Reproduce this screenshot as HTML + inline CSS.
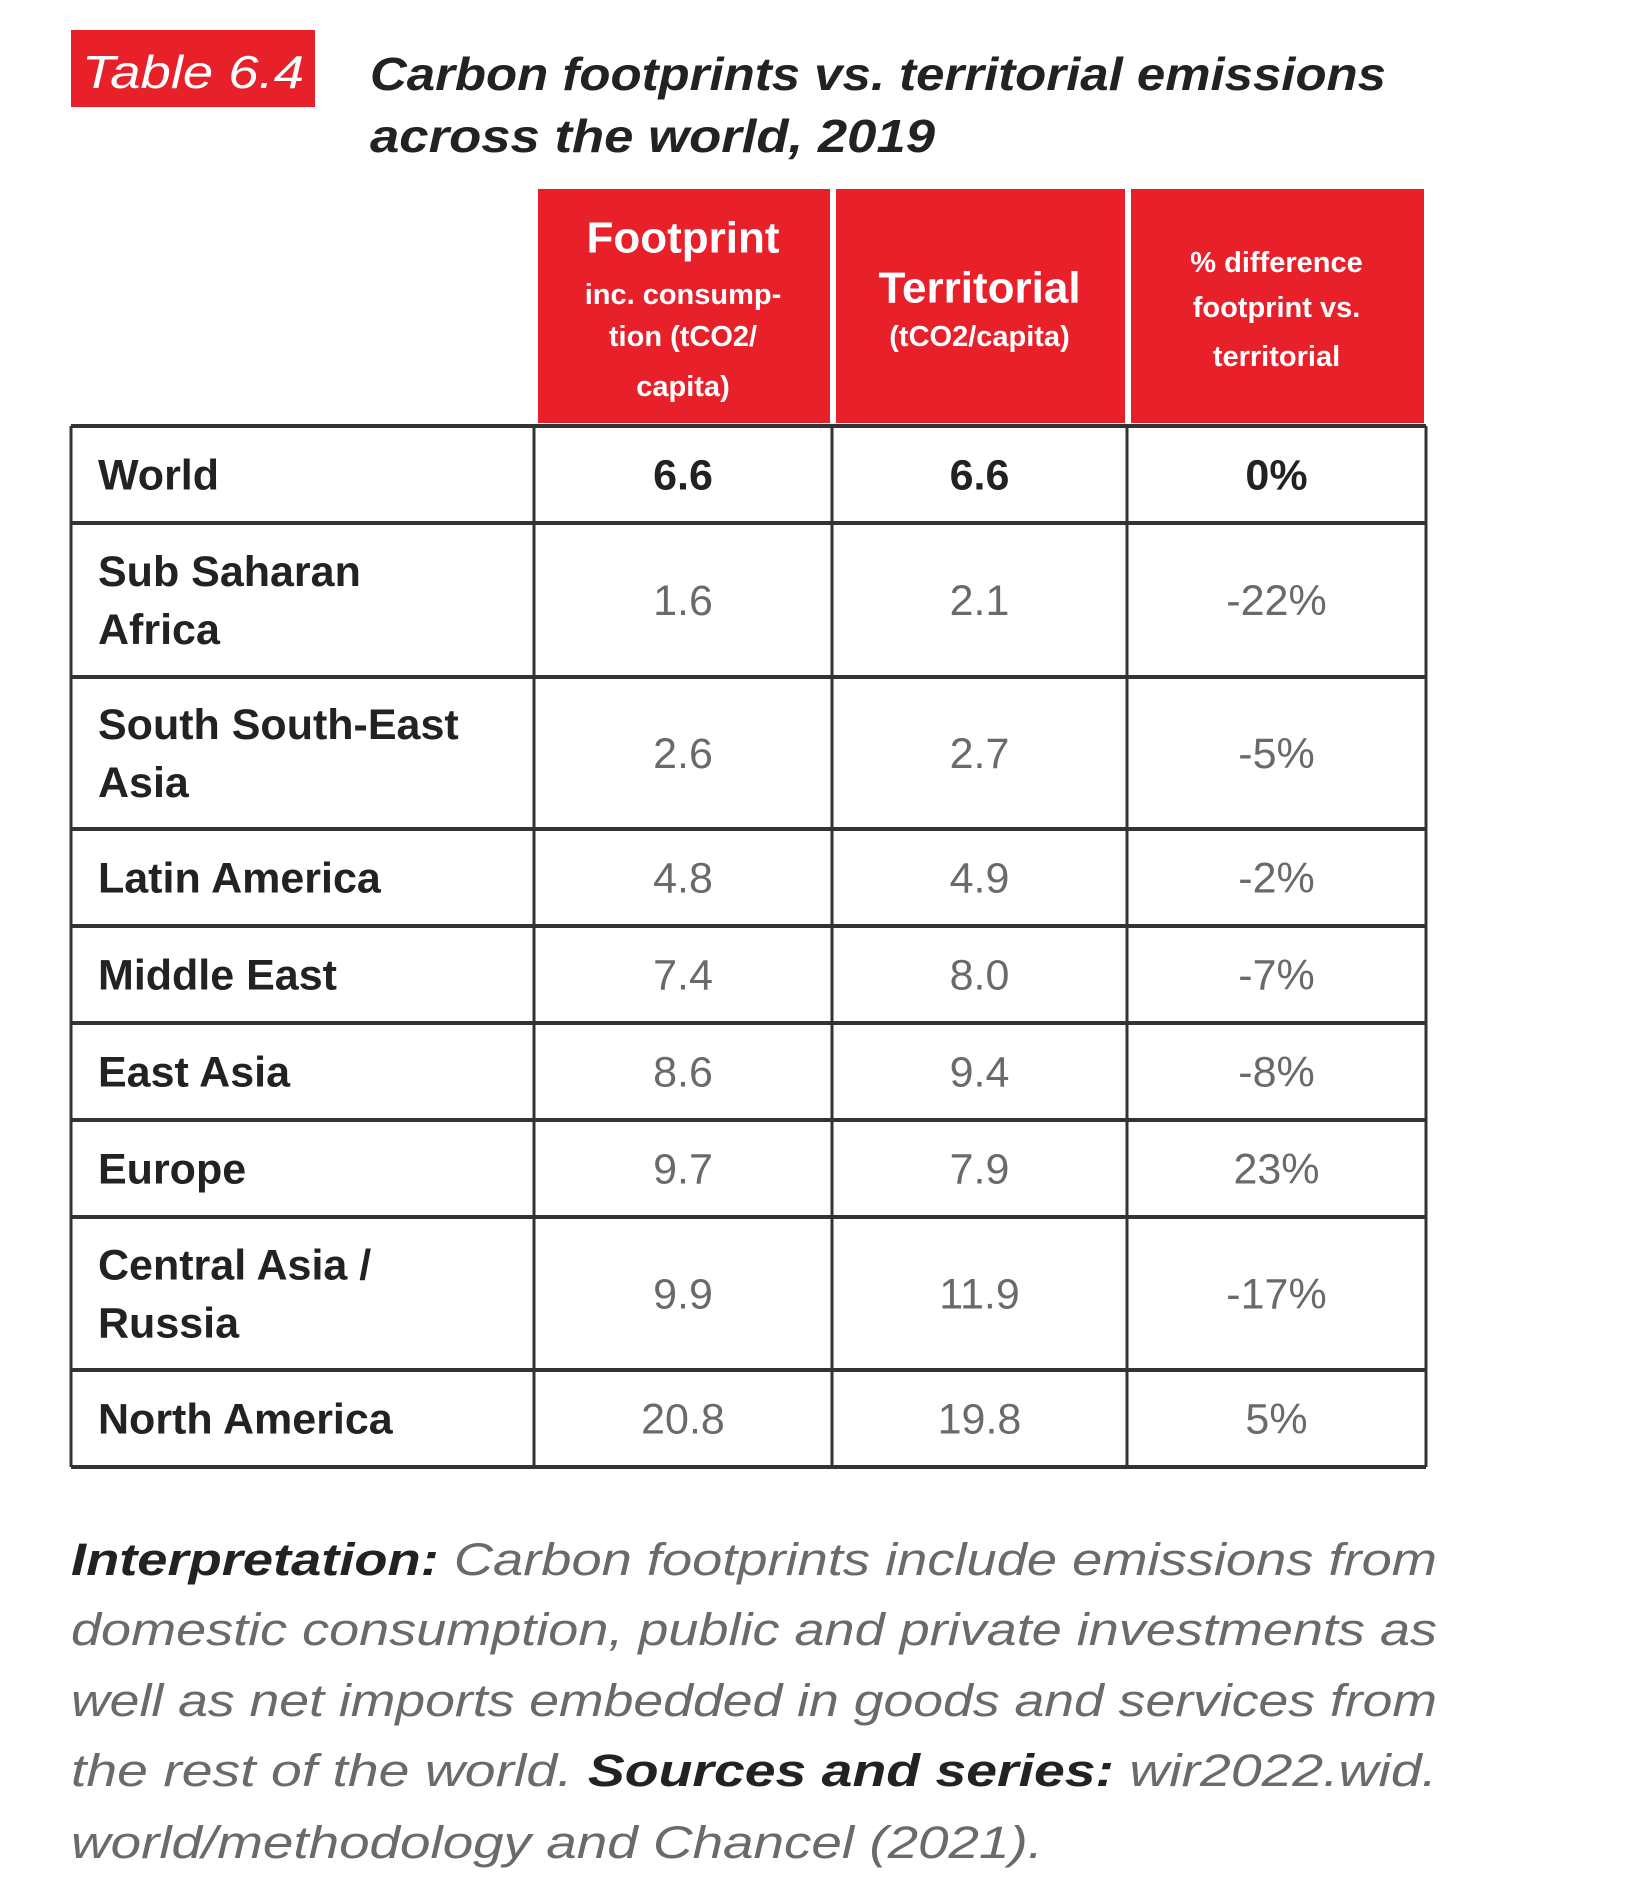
<!DOCTYPE html>
<html><head><meta charset="utf-8"><style>
body{margin:0;background:#fff;}
svg{display:block;font-family:"Liberation Sans",sans-serif;}
</style></head><body>
<svg id="chart" width="1629" height="1900" viewBox="0 0 1629 1900" xmlns="http://www.w3.org/2000/svg">
<rect x="71" y="30" width="244" height="77" fill="#e8202a"/>
<text x="82" y="88" font-size="46" font-style="italic" fill="#fff" textLength="222" lengthAdjust="spacingAndGlyphs">Table 6.4</text>
<text x="370" y="90" font-size="46" font-weight="bold" font-style="italic" fill="#222" textLength="1016" lengthAdjust="spacingAndGlyphs">Carbon footprints vs. territorial emissions</text>
<text x="370" y="152" font-size="46" font-weight="bold" font-style="italic" fill="#222" textLength="565" lengthAdjust="spacingAndGlyphs">across the world, 2019</text>
<g id="hdr"></g>
<g id="body"></g>
<g font-size="45" font-style="italic" fill="#6a6a6a">
<text x="71" y="1575" textLength="1366" lengthAdjust="spacingAndGlyphs"><tspan font-weight="bold" fill="#222">Interpretation:</tspan> Carbon footprints include emissions from</text>
<text x="71" y="1645" textLength="1366" lengthAdjust="spacingAndGlyphs">domestic consumption, public and private investments as</text>
<text x="71" y="1716" textLength="1366" lengthAdjust="spacingAndGlyphs">well as net imports embedded in goods and services from</text>
<text x="71" y="1786" textLength="1366" lengthAdjust="spacingAndGlyphs">the rest of the world. <tspan font-weight="bold" fill="#222">Sources and series:</tspan> wir2022.wid.</text>
<text x="71" y="1858" textLength="972" lengthAdjust="spacingAndGlyphs">world/methodology and Chancel (2021).</text>
</g>
</svg>
<script>
const regions=[["World"],["Sub Saharan","Africa"],["South South-East","Asia"],["Latin America"],["Middle East"],["East Asia"],["Europe"],["Central Asia /","Russia"],["North America"]];
const footprint=[6.6,1.6,2.6,4.8,7.4,8.6,9.7,9.9,20.8];
const territorial=[6.6,2.1,2.7,4.9,8.0,9.4,7.9,11.9,19.8];
const pctDiff=["0%","-22%","-5%","-2%","-7%","-8%","23%","-17%","5%"];
const headers=[["Footprint","inc. consump-","tion (tCO2/","capita)"],["Territorial","(tCO2/capita)"],["% difference","footprint vs.","territorial"]];
const NS="http://www.w3.org/2000/svg";
const colX=[71,534,832,1127,1426];
const rowTop=426, unit=[97,154,152,97,97,97,97,153,97];
function mk(t,a,p){const e=document.createElementNS(NS,t);for(const k in a)e.setAttribute(k,a[k]);p.appendChild(e);return e;}
const hdr=document.getElementById('hdr');
const hy=[[237,294,336,386],[287,336],[262,307,356]];
const hs=[[44,29,29,29],[44,29],[29,29,29]];
headers.forEach((h,i)=>{
 const r=mk('rect',{x:colX[i+1]+4,y:189,width:colX[i+2]-colX[i+1]-6,height:234,fill:'#e8202a'},hdr);
 
 
 h.forEach((l,j)=>{
  const t=mk('text',{x:(colX[i+1]+colX[i+2])/2,y:hy[i][j]+hs[i][j]*0.35,'text-anchor':'middle','font-size':hs[i][j],'font-weight':'bold',fill:'#fff'},hdr);
  t.textContent=l;
  
  
 });
});
const body=document.getElementById('body');
let y=rowTop;
regions.forEach((reg,i)=>{
 const h=unit[i];const cy=y+h/2;const bold=i===0;
 const g=mk('g',{},body);
 
 
 reg.forEach((l,j)=>{
  const ly=reg.length===1?cy:cy+(j-0.5)*58;
  const t=mk('text',{x:98,y:ly+15,'font-size':43,'font-weight':'bold',fill:'#222'},g);
  t.textContent=l;
 });
 const vals=[footprint[i].toFixed(1),territorial[i].toFixed(1),pctDiff[i]];
 vals.forEach((v,k)=>{
  const t=mk('text',{x:(colX[k+1]+colX[k+2])/2,y:cy+15,'text-anchor':'middle','font-size':43,'font-weight':bold?'bold':'normal',fill:bold?'#222':'#6a6a6a'},g);
  t.textContent=v;
  
  
 });
 mk('line',{x1:71,x2:1426,y1:y,y2:y,stroke:'#333','stroke-width':4},body);
 y+=h;
});
mk('line',{x1:71,x2:1426,y1:y,y2:y,stroke:'#333','stroke-width':4},body);
colX.forEach(x=>mk('line',{x1:x,x2:x,y1:rowTop,y2:y,stroke:'#333','stroke-width':3},body));
</script>
</body></html>
